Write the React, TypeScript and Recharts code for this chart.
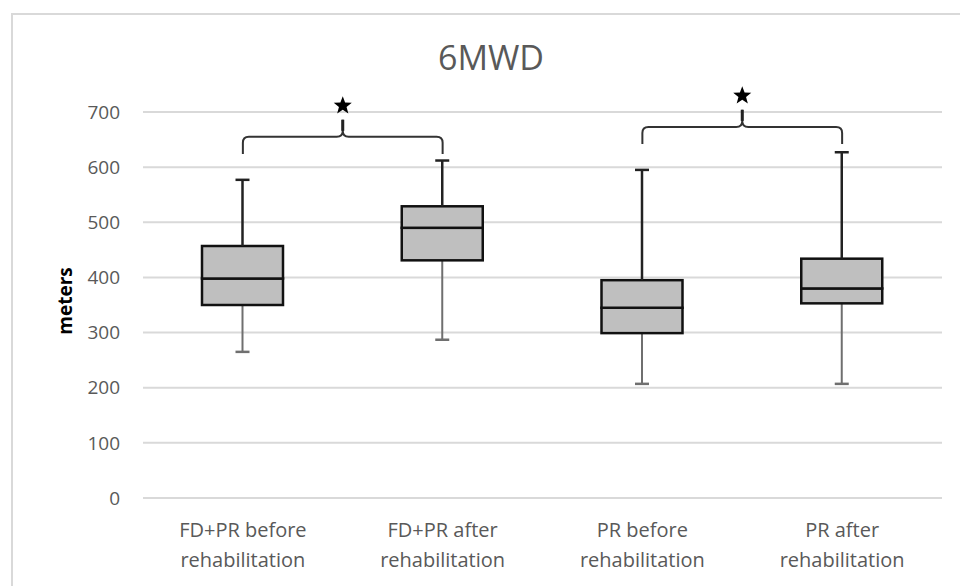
import React from 'react';
import { ComposedChart, Bar, XAxis, YAxis, CartesianGrid, ReferenceLine } from 'recharts';

const categories = [
  'FD+PR before rehabilitation',
  'FD+PR after rehabilitation',
  'PR before rehabilitation',
  'PR after rehabilitation',
];
const labelLine1 = ['FD+PR before', 'FD+PR after', 'PR before', 'PR after'];
const labelLine2 = ['rehabilitation', 'rehabilitation', 'rehabilitation', 'rehabilitation'];

const mins = [265, 287, 207, 207];
const q1s = [350, 431, 299, 353];
const medians = [398, 490, 345, 380];
const q3s = [457, 529, 395, 434];
const maxs = [577, 612, 595, 627];

const yTicks = [0, 100, 200, 300, 400, 500, 600, 700];

// significance brackets: from category index, to category index, end-tip value, bar value
const bracketFrom = [0, 2];
const bracketTo = [1, 3];
const bracketEnd = [624, 642];
const bracketBar = [655, 673];

const data = categories.map((name, i) => ({
  name,
  base: mins[i],
  lowW: q1s[i] - mins[i],
  boxLo: medians[i] - q1s[i],
  boxHi: q3s[i] - medians[i],
  upW: maxs[i] - q3s[i],
}));

const FONT = "'Open Sans', 'Noto Sans', sans-serif";

const LowerWhisker = (p: any) => {
  const cx = p.x + p.width / 2;
  const yb = p.y + p.height;
  return (
    <g>
      <line x1={cx} x2={cx} y1={p.y} y2={yb} stroke="#6f6f6f" strokeWidth={2} />
      <line x1={cx - 7} x2={cx + 7} y1={yb} y2={yb} stroke="#6f6f6f" strokeWidth={2.5} />
    </g>
  );
};

const UpperWhisker = (p: any) => {
  const cx = p.x + p.width / 2;
  return (
    <g>
      <line x1={cx} x2={cx} y1={p.y} y2={p.y + p.height} stroke="#222" strokeWidth={2.5} />
      <line x1={cx - 7} x2={cx + 7} y1={p.y} y2={p.y} stroke="#222" strokeWidth={2.5} />
    </g>
  );
};

const BoxPart = (p: any) => (
  <rect x={p.x} y={p.y} width={p.width} height={p.height} fill="#bfbfbf" stroke="#111" strokeWidth={2.5} />
);

const starPath = (cx: number, cy: number, ro: number, ri: number) => {
  const pts: string[] = [];
  for (let k = 0; k < 10; k++) {
    const r = k % 2 === 0 ? ro : ri;
    const a = -Math.PI / 2 + (k * Math.PI) / 5;
    pts.push(`${(cx + r * Math.cos(a)).toFixed(2)},${(cy + r * Math.sin(a)).toFixed(2)}`);
  }
  return `M${pts.join('L')}Z`;
};

const Bracket = (p: any) => {
  const { x1, y1, x2, y2 } = p;
  const drop = y1 - y2;
  const mid = (x1 + x2) / 2;
  const peak = y2 - drop;
  const r = 6;
  const d = [
    `M${x1},${y1}`,
    `L${x1},${y2 + r}`,
    `Q${x1},${y2} ${x1 + r},${y2}`,
    `L${mid - r},${y2}`,
    `Q${mid},${y2} ${mid},${y2 - r}`,
    `L${mid},${peak}`,
    `M${mid},${y2 - r}`,
    `Q${mid},${y2} ${mid + r},${y2}`,
    `L${x2 - r},${y2}`,
    `Q${x2},${y2} ${x2},${y2 + r}`,
    `L${x2},${y1}`,
  ].join(' ');
  return (
    <g>
      <path d={d} fill="none" stroke="#333" strokeWidth={2} />
      <line x1={mid} x2={mid} y1={y2 - r} y2={peak} stroke="#222" strokeWidth={3} />
      <path d={starPath(mid, peak - 14, 9.5, 4)} fill="#000" />
    </g>
  );
};

const XTick = (p: any) => {
  const idx = categories.indexOf(p.payload.value);
  return (
    <text x={p.x} y={p.y} textAnchor="middle" fill="#595959" fontSize={20} fontFamily={FONT}>
      <tspan x={p.x} dy={31}>{labelLine1[idx]}</tspan>
      <tspan x={p.x} dy={30}>{labelLine2[idx]}</tspan>
    </text>
  );
};

export default function App() {
  return (
    <div style={{ position: 'absolute', left: 0, top: 0, width: 960, height: 586, overflow: 'hidden', fontFamily: FONT }}>
      <div
        style={{
          position: 'absolute',
          left: 11,
          top: 13,
          width: 949,
          height: 573,
          boxSizing: 'border-box',
          borderTop: '2px solid #d9d9d9',
          borderLeft: '2px solid #d9d9d9',
        }}
      />
      <div style={{ position: 'absolute', left: 0, top: 0 }}>
        <ComposedChart width={960} height={586} data={data} margin={{ top: 112, right: 18, bottom: 28, left: 83 }}>
          <CartesianGrid horizontal vertical={false} stroke="#d9d9d9" strokeWidth={2} />
          <XAxis
            dataKey="name"
            height={60}
            axisLine={false}
            tickLine={false}
            interval={0}
            tick={<XTick />}
          />
          <YAxis
            width={60}
            domain={[0, 700]}
            ticks={yTicks}
            axisLine={false}
            tickLine={false}
            tickMargin={17}
            tick={{ fill: '#595959', fontSize: 19, fontFamily: FONT }}
          />
          <Bar dataKey="base" stackId="b" barSize={81} fill="transparent" isAnimationActive={false} shape={() => <g />} />
          <Bar dataKey="lowW" stackId="b" barSize={81} isAnimationActive={false} shape={LowerWhisker} />
          <Bar dataKey="boxLo" stackId="b" barSize={81} isAnimationActive={false} shape={BoxPart} />
          <Bar dataKey="boxHi" stackId="b" barSize={81} isAnimationActive={false} shape={BoxPart} />
          <Bar dataKey="upW" stackId="b" barSize={81} isAnimationActive={false} shape={UpperWhisker} />
          {bracketFrom.map((f, i) => (
            <ReferenceLine
              key={i}
              ifOverflow="visible"
              segment={[
                { x: categories[f], y: bracketEnd[i] },
                { x: categories[bracketTo[i]], y: bracketBar[i] },
              ]}
              shape={Bracket}
            />
          ))}
        </ComposedChart>
      </div>
      <svg width={960} height={586} style={{ position: 'absolute', left: 0, top: 0, pointerEvents: 'none' }}>
        <text x={491} y={70} textAnchor="middle" fill="#595959" fontSize={34} fontFamily={FONT}>
          6MWD
        </text>
        <text
          transform="translate(72,301) rotate(-90)"
          textAnchor="middle"
          fill="#000"
          fontSize={19}
          fontWeight="bold"
          fontFamily={FONT}
        >
          meters
        </text>
      </svg>
    </div>
  );
}
